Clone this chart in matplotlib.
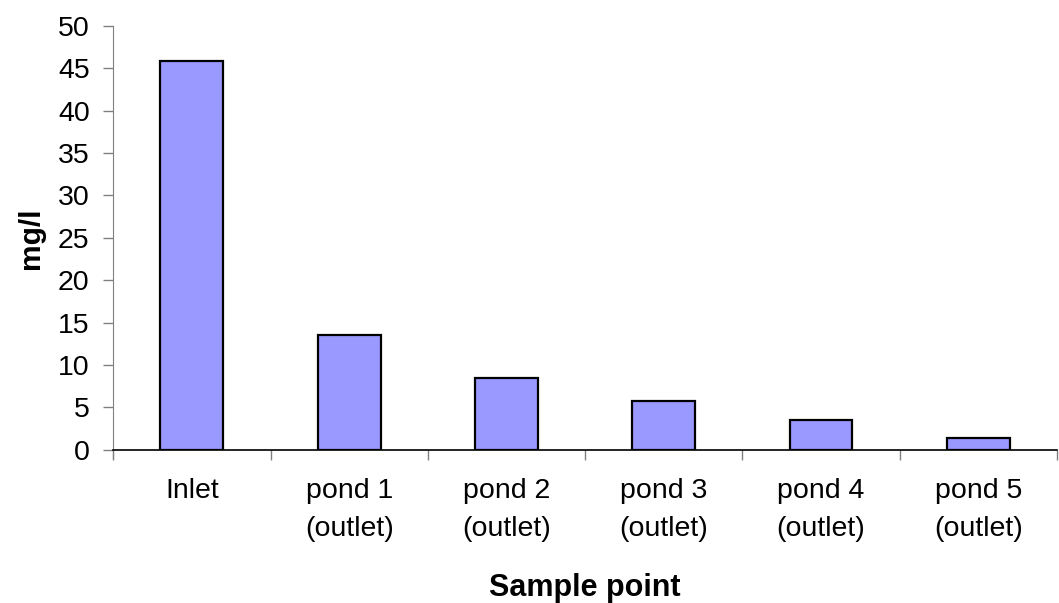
import numpy as np
import matplotlib
matplotlib.use("Agg")
import matplotlib.pyplot as plt

categories = ["Inlet", "pond 1\n(outlet)", "pond 2\n(outlet)", "pond 3\n(outlet)",
              "pond 4\n(outlet)", "pond 5\n(outlet)"]
values = [45.9, 13.6, 8.45, 5.75, 3.55, 1.35]
y_ticks = [0, 5, 10, 15, 20, 25, 30, 35, 40, 45, 50]

plt.rcParams['font.family'] = ['Liberation Sans', 'DejaVu Sans']

fig = plt.figure(figsize=(10.59, 6.03), dpi=100)
ax = fig.add_axes([0.107, 0.254, 0.891, 0.703])

x = np.arange(len(categories))
ax.bar(x, values, width=0.4, color='#9999FF', edgecolor='black', linewidth=1.6,
       zorder=3)

ax.set_xlim(-0.5, len(categories) - 0.5)
ax.set_ylim(0, 50)
ax.set_yticks(y_ticks)
ax.set_yticklabels([str(v) for v in y_ticks], fontsize=20.5)

ax.set_xticks(x)
ax.set_xticklabels(categories, fontsize=20.5, linespacing=1.62, va='top')
ax.set_xticks(np.arange(-0.5, len(categories), 1.0), minor=True)
ax.tick_params(axis='x', which='major', length=0, pad=20)
ax.tick_params(axis='x', which='minor', length=7, color='#808080', width=1)
ax.tick_params(axis='y', length=7, color='#808080', width=1, pad=10)

for side in ['top', 'right']:
    ax.spines[side].set_visible(False)
ax.spines['left'].set_color('#808080')
ax.spines['left'].set_bounds(-1.0, 50)
ax.spines['bottom'].set_color('black')
ax.spines['bottom'].set_linewidth(1.2)

ax.set_ylabel('mg/l', fontsize=21.5, fontweight='bold')
ax.yaxis.set_label_coords(-0.072, 0.5)
ax.set_xlabel('Sample point', fontsize=22, fontweight='bold')
ax.xaxis.set_label_coords(0.5, -0.29)

fig.savefig('out.png', dpi=100)
